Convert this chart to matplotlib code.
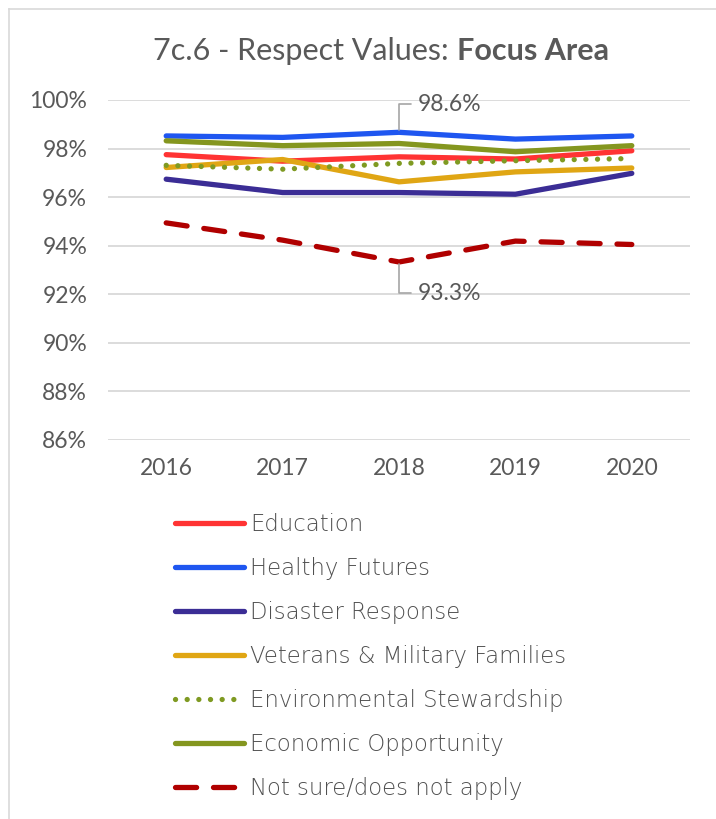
import matplotlib
matplotlib.use("Agg")
import matplotlib.pyplot as plt
from matplotlib.lines import Line2D
from matplotlib.ticker import FuncFormatter

plt.rcParams['font.family'] = ['Lato', 'DejaVu Sans']

years = ["2016", "2017", "2018", "2019", "2020"]
education = [97.75, 97.48, 97.66, 97.57, 97.91]
healthy_futures = [98.52, 98.46, 98.67, 98.39, 98.52]
disaster_response = [96.74, 96.19, 96.19, 96.12, 96.98]
veterans = [97.22, 97.55, 96.63, 97.04, 97.20]
environmental = [97.31, 97.15, 97.39, 97.50, 97.59]
economic = [98.32, 98.12, 98.21, 97.87, 98.12]
not_sure = [94.94, 94.23, 93.33, 94.19, 94.05]
y_ticks = [86, 88, 90, 92, 94, 96, 98, 100]

TXT = '#595959'
W, H = 716, 819
fig = plt.figure(figsize=(W / 100, H / 100), dpi=100)
fig.patch.set_facecolor('white')

# chart frame (top/left visible)
fig.add_artist(Line2D([9 / W, 9 / W], [0, 1 - 9 / H], color='#D9D9D9', lw=1.2))
fig.add_artist(Line2D([9 / W, 1], [1 - 9 / H, 1 - 9 / H], color='#D9D9D9', lw=1.2))

ax = fig.add_axes([108 / W, 1 - 440 / H, 582 / W, 340 / H])
x = list(range(len(years)))

series = [
    ("Education", education, dict(color='#FF3333', lw=3.8, ls='-')),
    ("Healthy Futures", healthy_futures, dict(color='#1F56F0', lw=3.8, ls='-')),
    ("Disaster Response", disaster_response, dict(color='#3B2D95', lw=3.8, ls='-')),
    ("Veterans & Military Families", veterans, dict(color='#E0A614', lw=3.8, ls='-')),
    ("Environmental Stewardship", environmental, dict(color='#7F9A22', lw=3.8, ls=(0, (0.01, 2.2)), dash_capstyle='round')),
    ("Economic Opportunity", economic, dict(color='#84961F', lw=3.8, ls='-')),
    ("Not sure/does not apply", not_sure, dict(color='#B00000', lw=3.8, ls=(0, (4.0, 3.2)), dash_capstyle='round')),
]
handles = []
for name, vals, st in series:
    ln, = ax.plot(x, vals, label=name, solid_capstyle='round', solid_joinstyle='round', **st)
    handles.append(ln)

ax.set_xlim(-0.5, 4.5)
ax.set_ylim(86, 100)
ax.set_yticks(y_ticks)
ax.yaxis.set_major_formatter(FuncFormatter(lambda v, p: f"{v:.0f}%"))
ax.set_xticks(x)
ax.set_xticklabels(years)
ax.grid(axis='y', color='#D9D9D9', lw=1.3)
ax.set_axisbelow(True)
for s in ax.spines.values():
    s.set_visible(False)
ax.tick_params(length=0, labelsize=16.5, colors=TXT)
ax.tick_params(axis='y', pad=15)
ax.tick_params(axis='x', pad=13)

# data labels with leader lines
ax.annotate("98.6%", xy=(2, healthy_futures[2] + 0.08), xytext=(2.16, 99.82),
            fontsize=16.5, color=TXT, va='center', ha='left',
            arrowprops=dict(arrowstyle='-', color='#A6A6A6', lw=1.2,
                            connectionstyle='angle,angleA=0,angleB=90,rad=0', shrinkA=3, shrinkB=0))
ax.annotate("93.3%", xy=(2, not_sure[2] - 0.1), xytext=(2.16, 92.05),
            fontsize=16.5, color=TXT, va='center', ha='left',
            arrowprops=dict(arrowstyle='-', color='#A6A6A6', lw=1.2,
                            connectionstyle='angle,angleA=0,angleB=90,rad=0', shrinkA=3, shrinkB=0))

# legend
leg = fig.legend(handles=handles, loc='upper left', bbox_to_anchor=(175 / W, 1 - 513 / H),
                 frameon=False, prop=dict(family='DejaVu Sans', size=16.4, weight='light'),
                 handlelength=3.05, handletextpad=0.26,
                 labelspacing=0.92, borderpad=0, borderaxespad=0)
for t in leg.get_texts():
    t.set_color('#505050')

# title with mixed weights
fig.canvas.draw()
r = fig.canvas.get_renderer()
t1 = fig.text(0, 1 - 60 / H, "7c.6 - Respect Values: ", fontsize=22, color=TXT, va='baseline', ha='left')
t2 = fig.text(0, 1 - 60 / H, "Focus Area", fontsize=22, color=TXT, fontweight='bold', va='baseline', ha='left')
w1 = t1.get_window_extent(r).width
w2 = t2.get_window_extent(r).width
x0 = 381 - (w1 + w2) / 2
t1.set_x(x0 / W)
t2.set_x((x0 + w1) / W)

fig.savefig("out.png", dpi=100, facecolor='white')
